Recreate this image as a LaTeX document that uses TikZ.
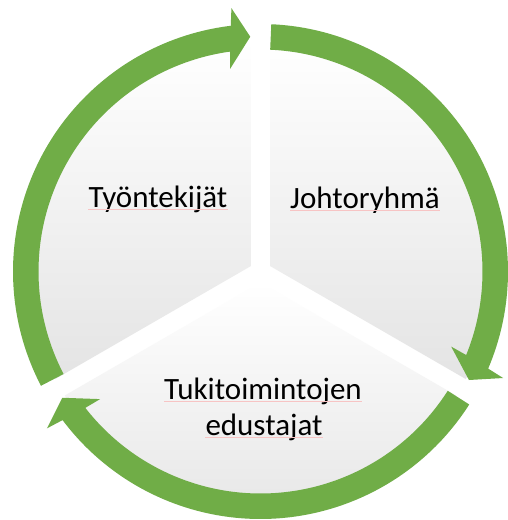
\documentclass[tikz,border=0pt]{standalone}
\usepackage{fontspec}
\setmainfont{Carlito}
\usetikzlibrary{calc}
\definecolor{ringgreen}{HTML}{70AD47}
\definecolor{pielow}{HTML}{E4E4E4}
\definecolor{squig}{HTML}{F7C4C4}
\begin{document}
\begin{tikzpicture}[x=1pt,y=1pt,
  sector/.style={top color=white, bottom color=pielow, draw=none},
  ringarrow/.style={fill=ringgreen, draw=none},
  label/.style={anchor=base, inner sep=0pt, font=\fontsize{31}{36}\selectfont},
  squiggle/.style={draw=squig, line width=0.5pt}]
\useasboundingbox (-260.5,-248.5) rectangle (246.5,271.5);
\fill[white] (-260.5,-248.5) rectangle (246.5,271.5);
% pie sectors
\path[sector, shift={(150:11)}] (0,0) -- (90:226) arc[start angle=90, end angle=210, radius=226] -- cycle;
\path[sector, shift={(30:11)}] (0,0) -- (-30:226) arc[start angle=-30, end angle=90, radius=226] -- cycle;
\path[sector, shift={(270:11)}] (0,0) -- (210:226) arc[start angle=210, end angle=330, radius=226] -- cycle;
% circular arrows
\foreach \s in {207.5,87.5,-32.5}{
  \fill[ringarrow] (\s:247.5) arc[start angle=\s, end angle=\s-110.6, radius=247.5]
    -- (\s-111.2:265) -- (\s-115:235) -- (\s-109:205) -- (\s-109.6:222)
    arc[start angle=\s-109.6, end angle=\s, radius=222] -- cycle;
}
% labels
\node[label] (tyo) at (-102.5,64.5) {Työntekijät};
\node[label] (joh) at (104.5,63.5) {Johtoryhmä};
\node[label] (tuki) at (2.5,-127.5) {Tukitoimintojen};
\node[label] (edu) at (3.5,-163.5) {edustajat};
\foreach \n in {tyo,joh,tuki,edu}{
  \draw[squiggle] ($(\n.base west)+(0,-2.5)$) -- ($(\n.base east)+(0,-2.5)$);
}
\end{tikzpicture}
\end{document}
